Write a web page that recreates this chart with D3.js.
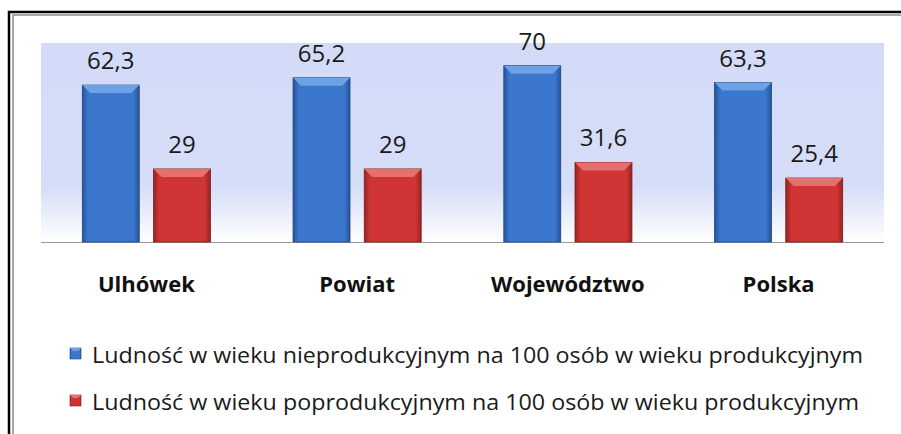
<!DOCTYPE html>
<html>
<head>
<meta charset="utf-8">
<script src="https://cdn.jsdelivr.net/npm/d3@7"></script>
<style>
  body { margin: 0; background: #fff; }
  svg { display: block; }
</style>
</head>
<body>
<div id="chart"></div>
<script>
const categories = ['Ulhówek', 'Powiat', 'Województwo', 'Polska'];
const seriesNames = [
  'Ludność w wieku nieprodukcyjnym na 100 osób w wieku produkcyjnym',
  'Ludność w wieku poprodukcyjnym na 100 osób w wieku produkcyjnym',
];
const nonProductive = [62.3, 65.2, 70, 63.3];
const postProductive = [29, 29, 31.6, 25.4];
const seriesValues = [nonProductive, postProductive];

const width = 901;
const height = 434;
const plot = {left: 41, right: 884, top: 43, bottom: 242};
const fontFamily = '"Open Sans", Lato, sans-serif';

const palettes = [
  {base: '#3b77cc', light: '#6ea2e6', dark: '#25539a', edge: '#1f4680'},
  {base: '#cf3535', light: '#e5706e', dark: '#962323', edge: '#7e1c1c'},
];

const svg = d3.select('#chart')
  .append('svg')
  .attr('width', width)
  .attr('height', height);

const defs = svg.append('defs');

// plot area background: lavender fading to white near the base
const bg = defs.append('linearGradient')
  .attr('id', 'bg').attr('x1', 0).attr('y1', 0).attr('x2', 0).attr('y2', 1);
bg.append('stop').attr('offset', '0%').attr('stop-color', '#d3dbf8');
bg.append('stop').attr('offset', '72%').attr('stop-color', '#d5ddf8');
bg.append('stop').attr('offset', '100%').attr('stop-color', '#ffffff');

// horizontal shading for the bars
palettes.forEach((p, i) => {
  const g = defs.append('linearGradient')
    .attr('id', 'bar' + i).attr('x1', 0).attr('y1', 0).attr('x2', 1).attr('y2', 0);
  g.append('stop').attr('offset', '0%').attr('stop-color', p.dark);
  g.append('stop').attr('offset', '10%').attr('stop-color', p.base);
  g.append('stop').attr('offset', '90%').attr('stop-color', p.base);
  g.append('stop').attr('offset', '100%').attr('stop-color', p.dark);
});

// outer frame (cropped on the right and bottom)
svg.append('path')
  .attr('d', `M9,${height} V12 H${width}`)
  .attr('fill', 'none').attr('stroke', '#000').attr('stroke-width', 2.5);
svg.append('path')
  .attr('d', `M13,${height} V15 H${width}`)
  .attr('fill', 'none').attr('stroke', '#8a8a8a').attr('stroke-width', 1.5);

svg.append('rect')
  .attr('x', plot.left).attr('y', plot.top)
  .attr('width', plot.right - plot.left).attr('height', plot.bottom - plot.top)
  .attr('fill', 'url(#bg)');

const x0 = d3.scaleBand()
  .domain(categories)
  .range([plot.left, plot.right]);

const x1 = d3.scaleBand()
  .domain([0, 1])
  .range([0, x0.bandwidth()])
  .paddingInner(0.2)
  .paddingOuter(0.58);

const y = d3.scaleLinear()
  .domain([0, 79])
  .range([plot.bottom, plot.top]);

// baseline
svg.append('line')
  .attr('x1', plot.left).attr('x2', plot.right)
  .attr('y1', plot.bottom + 0.5).attr('y2', plot.bottom + 0.5)
  .attr('stroke', '#9a9a9a').attr('stroke-width', 1);

const bars = [];
categories.forEach((c, ci) => {
  seriesValues.forEach((vals, si) => {
    bars.push({cat: c, s: si, v: vals[ci]});
  });
});

const barG = svg.append('g').selectAll('g')
  .data(bars)
  .join('g')
  .attr('transform', (d) => `translate(${x0(d.cat) + x1(d.s)},0)`);

const bw = x1.bandwidth();
const bevel = 8;

barG.append('rect')
  .attr('x', 0).attr('y', (d) => y(d.v))
  .attr('width', bw).attr('height', (d) => y(0) - y(d.v))
  .attr('fill', (d) => `url(#bar${d.s})`)
  .attr('stroke', (d) => palettes[d.s].edge).attr('stroke-width', 0.8);

// lighter top bevel
barG.append('path')
  .attr('d', (d) => {
    const t = y(d.v);
    return `M0,${t} H${bw} L${bw - bevel},${t + bevel} H${bevel} Z`;
  })
  .attr('fill', (d) => palettes[d.s].light);

// value labels
barG.append('text')
  .attr('x', bw / 2)
  .attr('y', (d) => y(d.v) - 16)
  .attr('text-anchor', 'middle')
  .attr('font-family', fontFamily)
  .attr('font-size', 24)
  .attr('fill', '#1a1a1a')
  .text((d) => String(d.v).replace('.', ','));

// category labels
svg.append('g').selectAll('text')
  .data(categories)
  .join('text')
  .attr('x', (d) => x0(d) + x0.bandwidth() / 2)
  .attr('y', 292)
  .attr('text-anchor', 'middle')
  .attr('font-family', fontFamily)
  .attr('font-weight', 'bold')
  .attr('font-size', 22)
  .attr('fill', '#111')
  .text((d) => d);

// legend
const legend = svg.append('g').selectAll('g')
  .data(seriesNames)
  .join('g')
  .attr('transform', (d, i) => `translate(70,${363 + i * 47})`);

legend.append('rect')
  .attr('x', 0).attr('y', -15).attr('width', 11).attr('height', 11)
  .attr('fill', (d, i) => `url(#bar${i})`)
  .attr('stroke', (d, i) => palettes[i].edge).attr('stroke-width', 0.6);
legend.append('path')
  .attr('d', 'M0,-15 H11 L8,-12 H3 Z')
  .attr('fill', (d, i) => palettes[i].light);

legend.append('text')
  .attr('x', 22)
  .attr('y', 0)
  .attr('font-family', fontFamily)
  .attr('font-size', 21)
  .attr('fill', '#1a1a1a')
  .attr('textLength', (d, i) => (i === 0 ? 771 : 767))
  .attr('lengthAdjust', 'spacingAndGlyphs')
  .text((d) => d);
</script>
</body>
</html>
